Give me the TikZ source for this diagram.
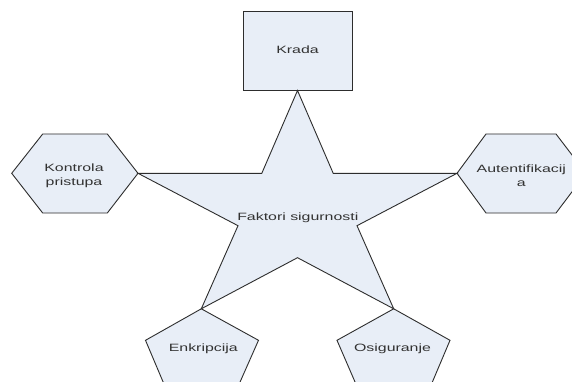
\documentclass[tikz,border=0pt]{standalone}
\usepackage{fontspec}
\setmainfont[FakeStretch=1.5]{Liberation Sans}
\definecolor{shapefill}{RGB}{232,238,247}
\definecolor{lineclr}{RGB}{45,45,45}
\definecolor{txtclr}{RGB}{50,50,50}
\begin{document}
\begin{tikzpicture}[x=1pt,y=-1pt,
  blockshape/.style={draw=lineclr,fill=shapefill,line width=0.9pt,line join=miter},
  lbl/.style={text=txtclr,font=\fontsize{10.6}{13.8}\selectfont,inner sep=0pt,align=center}]
% page frame
\fill[white] (0,0) rectangle (572,382);
\clip (0,0) rectangle (572,382);

% star points
\coordinate (sTop) at (297.5,90.5);
\coordinate (sInUL) at (261.8,173.3);
\coordinate (sLeft) at (138,173.3);
\coordinate (sInLL) at (238,225.7);
\coordinate (sBotL) at (201.3,308.8);
\coordinate (sInBot) at (297.5,257.7);
\coordinate (sBotR) at (393.7,308.8);
\coordinate (sInLR) at (357,225.7);
\coordinate (sRight) at (457,173.3);
\coordinate (sInUR) at (333.2,173.3);

% Krada box
\draw[blockshape] (243,11) rectangle (352,90.5);

% Kontrola pristupa hexagon
\draw[blockshape] (sLeft) -- (107.3,213) -- (42.7,213) -- (11.7,173.3)
  -- (42.7,134) -- (107.3,134) -- cycle;

% Autentifikacija hexagon
\draw[blockshape] (sRight) -- (486,134) -- (556,134) -- (586,173.3)
  -- (556,213) -- (486,213) -- cycle;

% Enkripcija pentagon
\draw[blockshape] (sBotL) -- (258.5,340.3) -- (236.5,390) -- (166.5,390)
  -- (145.5,340.3) -- cycle;

% Osiguranje pentagon
\draw[blockshape] (sBotR) -- (450,340.3) -- (429,390) -- (358.5,390)
  -- (337,340.3) -- cycle;

% central star
\draw[blockshape] (sTop) -- (sInUL) -- (sLeft) -- (sInLL) -- (sBotL) -- (sInBot)
  -- (sBotR) -- (sInLR) -- (sRight) -- (sInUR) -- cycle;

% labels
\node[lbl,anchor=base] (krada) at (297.5,54) {Krada};
\node[lbl,anchor=base] (faktori) at (297.8,220.7) {Faktori sigurnosti};
\node[lbl] (kontrola) at (74,175.5) {Kontrola\\pristupa};
\node[lbl] (autent) at (521.3,175.5) {Autentifikacij\\a};
\node[lbl,anchor=base] (enkr) at (203.3,351) {Enkripcija};
\node[lbl,anchor=base] (osig) at (392.5,351) {Osiguranje};
\end{tikzpicture}
\end{document}
